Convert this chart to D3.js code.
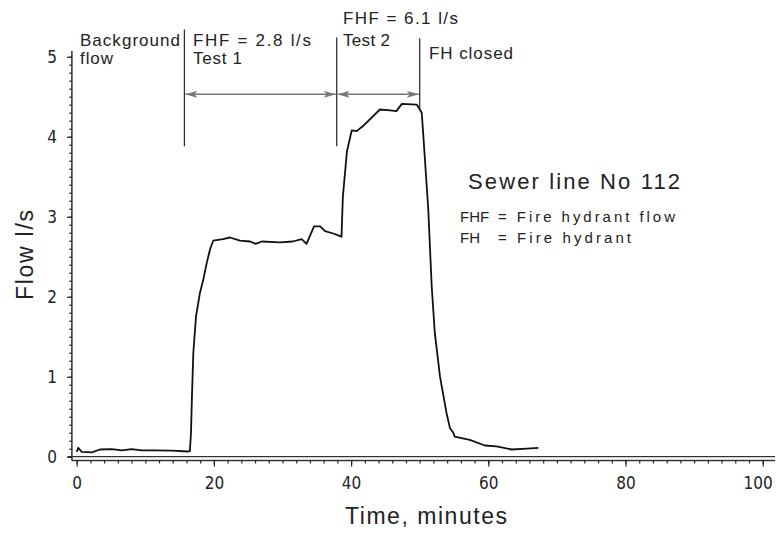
<!DOCTYPE html>
<html>
<head>
    <meta charset="utf-8">
    <title>Sewer line No 112</title>
    <style>
        body { margin: 0; background: #fff; }
        svg { display: block; font-family: 'Liberation Sans', Arial, sans-serif; }
        .tick text {
            font-family: 'Liberation Sans Narrow', 'DejaVu Sans Condensed', 'Liberation Sans', sans-serif;
            font-size: 17px;
            fill: #222;
        }
        .tick line { stroke: #222; stroke-width: 1.2; }
        .domain { display: none; }
        .note { fill: #222; }
    </style>
</head>
<body>
<svg width="777" height="534"></svg>
<script src="https://d3js.org/d3.v7.min.js"></script>
<script>
    // flow record
    let time = [0, 0.23, 0.73, 2.2, 3.4, 5.1, 6.6, 8.0, 9.5, 11.4, 13.85, 16.27, 16.5, 16.66, 16.8, 17.0,
        17.39, 17.97, 18.45, 18.95, 19.43, 19.9, 21.3, 22.35, 23.8, 25.3, 26.1, 26.97, 29.6, 31.5, 32.8,
        33.5, 34.6, 35.5, 36.2, 37.4, 38.6, 38.8, 39.4, 40.1, 40.8, 41.7, 44.2, 45.7, 46.6, 47.4, 49.6,
        50.3, 50.5, 51.25, 51.75, 52.2, 52.96, 53.9, 54.4, 54.9, 55.1, 57.3, 59.5, 61.2, 63.4, 65.6, 67.3];
    let flow = [0.06, 0.11, 0.06, 0.055, 0.09, 0.095, 0.08, 0.095, 0.08, 0.08, 0.075, 0.065, 0.07, 0.3, 0.75, 1.3,
        1.75, 2.05, 2.21, 2.42, 2.59, 2.70, 2.72, 2.74, 2.70, 2.69, 2.66, 2.69, 2.68, 2.69, 2.72,
        2.66, 2.88, 2.88, 2.82, 2.79, 2.75, 3.25, 3.82, 4.08, 4.07, 4.13, 4.34, 4.33, 4.32, 4.41, 4.40,
        4.30, 4.05, 3.09, 2.13, 1.55, 1.0, 0.55, 0.36, 0.30, 0.25, 0.21, 0.14, 0.13, 0.09, 0.10, 0.11];

    let xMajor = [0, 20, 40, 60, 80, 100];
    let yMajor = [0, 1, 2, 3, 4, 5];

    // event markers: time, top and bottom of the vertical line
    let markTime = [15.7, 37.9, 50.0];
    let markTop = [5.34, 5.24, 5.23];
    let markBottom = [3.88, 3.88, 4.35];
    let arrowLevel = 4.53;

    let svg = d3.select('svg');

    let x = d3.scaleLinear().domain([0, 100]).range([76.7, 762.7]);
    let y = d3.scaleLinear().domain([0, 5]).range([456.7, 56.7]);

    let axisY = y(0) + 3.8;   // lower rule of the double base line
    let axisX = x(-0.7);

    // double base line
    svg.append('line')
        .attr('x1', x(-1.3)).attr('x2', x(101.8))
        .attr('y1', y(0)).attr('y2', y(0))
        .attr('stroke', '#333').attr('stroke-width', 1.3);
    svg.append('line')
        .attr('x1', axisX).attr('x2', x(101.8))
        .attr('y1', axisY).attr('y2', axisY)
        .attr('stroke', '#333').attr('stroke-width', 1.3);

    // x minor ticks
    svg.append('g')
        .attr('transform', `translate(0,${axisY})`)
        .call(d3.axisBottom(x).tickValues(d3.range(0, 101, 2)).tickSize(3).tickFormat(''));
    // x major ticks
    svg.append('g')
        .attr('transform', `translate(0,${axisY})`)
        .call(d3.axisBottom(x).tickValues(xMajor).tickSize(6).tickPadding(10).tickFormat(d3.format('d')))
        .call(g => g.selectAll('.tick text').filter(d => d === 100).attr('dx', -5));

    // y axis line
    svg.append('line')
        .attr('x1', axisX).attr('x2', axisX)
        .attr('y1', axisY).attr('y2', y(5.07))
        .attr('stroke', '#222').attr('stroke-width', 1.4);
    svg.append('g')
        .attr('transform', `translate(${axisX},0)`)
        .call(d3.axisLeft(y).tickValues(d3.range(0, 51).map(d => d / 10)).tickSize(2.5).tickFormat(''));
    svg.append('g')
        .attr('transform', `translate(${axisX},0)`)
        .call(d3.axisLeft(y).tickValues(yMajor).tickSize(5).tickPadding(10).tickFormat(d3.format('d')));

    // axis titles
    svg.append('text')
        .attr('x', 426).attr('y', 524)
        .attr('text-anchor', 'middle')
        .attr('font-size', 23)
        .attr('textLength', 162)
        .attr('fill', '#222')
        .text('Time, minutes');
    svg.append('text')
        .attr('transform', 'translate(33,255) rotate(-90)')
        .attr('text-anchor', 'middle')
        .attr('font-size', 23)
        .attr('textLength', 90)
        .attr('fill', '#222')
        .text('Flow l/s');

    // the flow curve
    let line = d3.line()
        .x((d, i) => x(time[i]))
        .y(d => y(d))
        .curve(d3.curveLinear);
    svg.append('path')
        .datum(flow)
        .attr('fill', 'none')
        .attr('stroke', '#111')
        .attr('stroke-width', 1.8)
        .attr('stroke-linejoin', 'round')
        .attr('d', line);

    // event lines
    svg.append('g')
        .selectAll('line')
        .data(markTime)
        .join('line')
        .attr('x1', d => x(d)).attr('x2', d => x(d))
        .attr('y1', (d, i) => y(markTop[i]))
        .attr('y2', (d, i) => y(markBottom[i]))
        .attr('stroke', '#333')
        .attr('stroke-width', 1.3);

    // arrows between the event lines
    svg.append('defs').append('marker')
        .attr('id', 'head')
        .attr('viewBox', '0 0 12 8')
        .attr('refX', 12).attr('refY', 4)
        .attr('markerWidth', 12).attr('markerHeight', 8)
        .attr('markerUnits', 'userSpaceOnUse')
        .attr('orient', 'auto-start-reverse')
        .append('path')
        .attr('d', 'M0,0.5 L12,4 L0,7.5 L3,4 Z')
        .attr('fill', '#777');

    svg.append('g')
        .selectAll('line')
        .data([0, 1])
        .join('line')
        .attr('x1', i => x(markTime[i]) + 1)
        .attr('x2', i => x(markTime[i + 1]) - 1)
        .attr('y1', y(arrowLevel)).attr('y2', y(arrowLevel))
        .attr('stroke', '#777')
        .attr('stroke-width', 1.4)
        .attr('marker-start', 'url(#head)')
        .attr('marker-end', 'url(#head)');

    // annotations
    let notes = [
        ['Background', 80, 46, 17, 100],
        ['flow', 80, 64, 17, 33],
        ['FHF = 2.8 l/s', 193, 46, 17, 118],
        ['Test 1', 193, 64, 17, 49],
        ['FHF = 6.1 l/s', 343, 24, 17, 115],
        ['Test 2', 343, 46, 17, 47],
        ['FH closed', 429, 59, 17, 84],
        ['Sewer line No 112', 468, 189, 22, 212]
    ];
    svg.append('g')
        .selectAll('text')
        .data(notes)
        .join('text')
        .attr('class', 'note')
        .attr('x', d => d[1]).attr('y', d => d[2])
        .attr('font-size', d => d[3])
        .attr('textLength', d => d[4])
        .attr('lengthAdjust', 'spacing')
        .text(d => d[0]);

    let legend = [
        ['FHF', '= Fire hydrant flow', 222, 177],
        ['FH', '= Fire hydrant', 243, 133]
    ];
    legend.forEach(r => {
        svg.append('text').attr('class', 'note')
            .attr('x', 460).attr('y', r[2]).attr('font-size', 15)
            .text(r[0]);
        svg.append('text').attr('class', 'note')
            .attr('x', 498).attr('y', r[2]).attr('font-size', 15)
            .attr('textLength', r[3]).attr('lengthAdjust', 'spacing')
            .text(r[1]);
    });
</script>
</body>
</html>
